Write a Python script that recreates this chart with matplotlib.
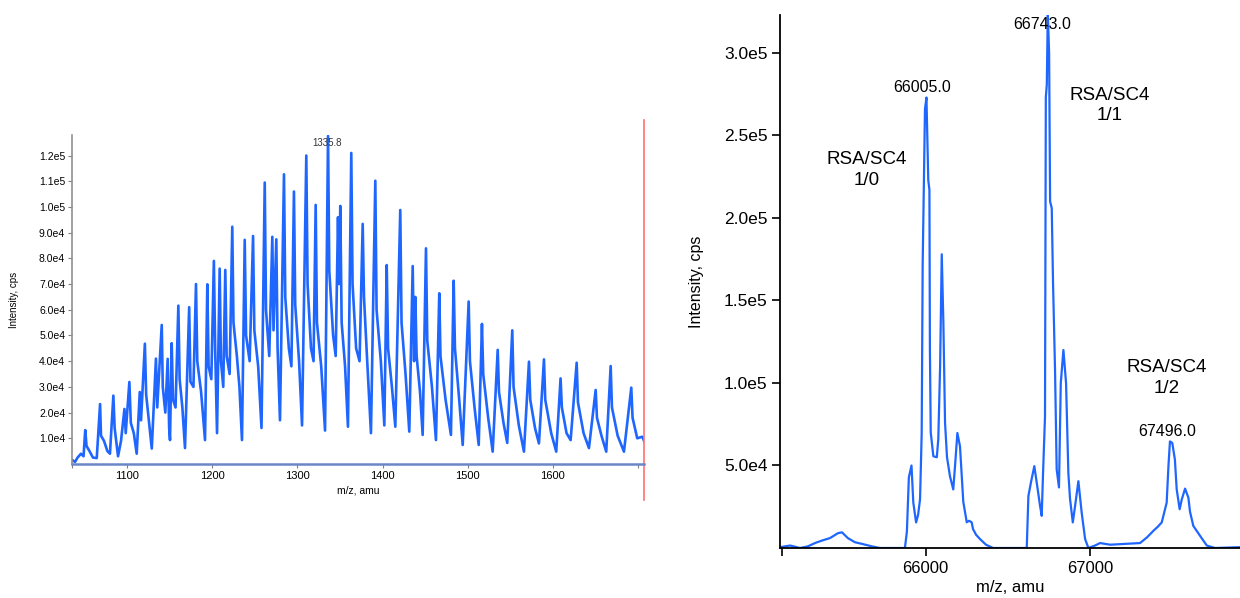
import numpy as np
import matplotlib
matplotlib.use("Agg")
import matplotlib.pyplot as plt

plt.rcParams['font.family'] = ['Liberation Sans', 'DejaVu Sans']

# left panel: raw ESI spectrum (m/z, intensity in cps), vertices
RAW_MZ = [1036, 1039, 1042, 1046, 1049, 1051, 1052.5, 1056, 1060, 1064.5,
          1068.4, 1069.5, 1073, 1077, 1080, 1084, 1085.5, 1089.5, 1093, 1097,
          1098.5, 1102.8, 1104.5, 1108, 1111.4, 1115, 1116.5, 1121, 1122.5, 1126,
          1129.1, 1134, 1135.5, 1140.8, 1142, 1145, 1147.8, 1149.5, 1150.5, 1152.5,
          1154, 1157, 1160.3, 1161.8, 1165, 1168.1, 1173, 1174.5, 1178, 1181,
          1182.5, 1187, 1191.6, 1194.3, 1195.8, 1199, 1202, 1203.5, 1205.7, 1208.8,
          1210.3, 1213, 1215.4, 1217, 1220.5, 1223.6, 1225, 1229, 1232, 1235,
          1238.2, 1239.8, 1244, 1248, 1249.5, 1254, 1257.9, 1261.7, 1263.2, 1267,
          1270.6, 1272, 1275.3, 1276.8, 1279.6, 1284.3, 1285.8, 1290, 1293, 1296,
          1297.5, 1302, 1305.5, 1310.5, 1312, 1316, 1319, 1321.5, 1323, 1328,
          1332.5, 1336, 1337.5, 1342, 1345, 1347.7, 1349, 1350.4, 1352, 1356,
          1359.4, 1363.3, 1364.8, 1369, 1373, 1376.7, 1378.2, 1382, 1386.4, 1391.5,
          1393, 1398, 1402.1, 1404.9, 1406.5, 1411, 1415, 1420.8, 1422.3, 1427,
          1431.4, 1435.4, 1437, 1438.5, 1440, 1444, 1447.1, 1451, 1452.5, 1458,
          1462.7, 1466.6, 1468, 1474, 1480.3, 1483.5, 1485, 1490, 1494.1, 1501.1,
          1502.6, 1508, 1512.9, 1516.7, 1518.2, 1524, 1529.3, 1535.2, 1536.7, 1542,
          1546.4, 1552.3, 1553.8, 1560, 1566, 1571.9, 1573.4, 1579, 1583.6, 1589.5,
          1591, 1598, 1603.9, 1609, 1610.5, 1616, 1620.8, 1627.9, 1629.4, 1636,
          1642.3, 1650.2, 1651.7, 1657, 1662.6, 1667.8, 1669.3, 1676, 1683.4, 1692,
          1693.5, 1699, 1704.9, 1707]
RAW_INT = [1.5, 0.8, 2.5, 4, 3, 13.2, 7, 5, 2.5, 2.3,
           23.3, 11, 9, 5, 4, 26.6, 14, 3, 9, 21.4,
           12, 31.9, 16, 12, 4, 28, 17, 46.8, 27, 16,
           6, 41, 22, 54.1, 30, 20, 40.9, 14, 9.3, 47,
           25, 22, 61.6, 33, 22, 6.2, 61, 32, 30, 70,
           40, 28, 9.3, 69.9, 38, 33, 79, 45, 12, 76,
           40, 30, 75.5, 42, 35, 92.3, 55, 42, 30, 9.3,
           87.2, 50, 40, 88.7, 52, 38, 14, 109.5, 60, 42,
           88.4, 52, 87.4, 45, 17, 112.7, 65, 45, 38, 106,
           62, 40, 15, 120, 70, 45, 40, 100.8, 55, 38,
           13, 127.6, 75, 50, 42, 96, 70, 100.4, 55, 38,
           14.5, 121, 70, 45, 40, 93.4, 65, 40, 12, 110.2,
           60, 40, 15, 77.4, 45, 30, 14.5, 98.8, 55, 35,
           12.6, 77, 40, 65, 42, 28, 11.3, 83.9, 48, 30,
           9.3, 66.4, 42, 25, 11.3, 71.3, 45, 25, 7.4, 63.2,
           40, 22, 7.4, 54.5, 35, 18, 4.8, 44.4, 28, 16,
           8.2, 52, 30, 15, 4.8, 39.8, 25, 14, 8, 40.7,
           25, 12, 4.8, 33.3, 22, 12, 9.3, 39.4, 24, 12,
           6.2, 28.8, 18, 11, 4.8, 38.1, 22, 11, 4.8, 29.7,
           18, 10, 10.6, 9]  # x 1000 cps

RAW_YTICKS = [1e4, 2e4, 3e4, 4e4, 5e4, 6e4, 7e4, 8e4, 9e4, 1e5, 1.1e5, 1.2e5]
RAW_XTICKS = [1100, 1200, 1300, 1400, 1500, 1600, 1700]

# right panel: deconvoluted (reconstructed) mass spectrum
DEC_MASS = [65114, 65176, 65236, 65284, 65327, 65369, 65418, 65467, 65491, 65527,
            65570, 65613, 65673, 65722, 65874, 65886, 65898, 65914, 65925, 65942,
            65954, 65966, 65976, 65982, 65996, 66005, 66016, 66023, 66026, 66031,
            66047, 66068, 66077, 66088, 66098, 66108, 66118, 66130, 66148, 66168,
            66179, 66193, 66209, 66229, 66250, 66264, 66280, 66288, 66307, 66331,
            66367, 66410, 66615, 66625, 66641, 66661, 66678, 66696, 66706, 66714,
            66726, 66731, 66737, 66743, 66751, 66757, 66767, 66775, 66787, 66797,
            66811, 66822, 66838, 66854, 66868, 66878, 66895, 66909, 66929, 66949,
            66970, 66990, 67030, 67061, 67122, 67213, 67304, 67347, 67385, 67413,
            67436, 67466, 67477, 67486, 67500, 67516, 67527, 67545, 67558, 67578,
            67598, 67608, 67628, 67669, 67710, 67760, 67912]
DEC_INT = [0.5, 1.5, 0, 1, 3, 4.5, 6, 9, 9.5, 6,
           3.5, 2.5, 1, 0, 0, 10, 42.8, 50, 27.5, 15.5,
           20, 29.5, 69.7, 172, 266, 273, 223, 217, 120, 70,
           55.6, 55, 66, 110, 178, 136, 76, 55, 43.5, 35.5,
           50, 69.7, 61.6, 28, 15.6, 16.5, 15.6, 11.5, 8, 5.4,
           2, 0, 0, 31.5, 40, 49.6, 38, 25.5, 19.5, 45,
           79.7, 273, 281, 324, 300, 210, 206, 160, 108, 47.6,
           36.7, 100, 120, 100, 45.6, 30, 15.5, 25.5, 40.5, 21.5,
           5.4, 0, 1.5, 3, 2, 2.5, 3, 6.5, 10.4, 13,
           15.5, 27.5, 50, 64.6, 63.7, 53.6, 35.5, 23.5, 29.5, 36,
           30.5, 22, 13.4, 7.4, 1.5, 0, 0.5]  # x 1000 cps

DEC_YTICKS = [5e4, 1e5, 1.5e5, 2e5, 2.5e5, 3e5]
DEC_XTICKS = [66000, 67000]

# (x, y, text) of the annotations
RAW_PEAK_LABELS = [(1335, 1.25e5, "1335.8")]
DEC_PEAK_LABELS = [(65976, 2.79e5, "66005.0"), (66706, 3.17e5, "66743.0"), (67467, 7.08e4, "67496.0")]
SPECIES = [(65642, 2.29e5, "RSA/SC4\n1/0"), (67122, 2.68e5, "RSA/SC4\n1/1"), (67467, 1.03e5, "RSA/SC4\n1/2")]

BLUE = '#1f66ff'


def sci(v):
    s = "%.1e" % v
    mant, exp = s.split("e")
    return "%se%d" % (mant, int(exp))


fig = plt.figure(figsize=(12.4, 5.98), dpi=100)

#----------------------------------------------------------------------------------
# Left: raw charge state envelope
#----------------------------------------------------------------------------------
ax1 = fig.add_axes([0.0581, 0.2241, 0.4613, 0.5502])
ax1.plot(RAW_MZ, np.array(RAW_INT) * 1000, color=BLUE, lw=1.9)
ax1.set_xlim(1035.5, 1707)
ax1.set_ylim(0, 1.28e5)
ax1.set_yticks(RAW_YTICKS)
ax1.set_yticklabels([sci(v) for v in RAW_YTICKS], fontsize=7.5)
ax1.set_xticks(RAW_XTICKS)
ax1.set_xticklabels([str(v) if v < 1700 else "" for v in RAW_XTICKS], fontsize=8)
ax1.set_xticks([1036], minor=True)
ax1.tick_params(which='both', length=3, width=0.8, color='#808080', pad=2)
for s in ['top', 'right']:
    ax1.spines[s].set_visible(False)
ax1.spines['left'].set_color('#909090')
ax1.spines['left'].set_linewidth(1.2)
ax1.spines['bottom'].set_color('#6a86c8')
ax1.spines['bottom'].set_linewidth(1.8)
ax1.set_ylabel("Intensity, cps", fontsize=7, labelpad=14)
ax1.set_xlabel("m/z, amu", fontsize=7.5, labelpad=3)
for mz, h, txt in RAW_PEAK_LABELS:
    ax1.text(mz, h, txt, fontsize=7, ha='center', va='center', color='#333333')
ax1.axvline(1707, ymin=-0.11, ymax=1.046, color='#ff7070', lw=1.2, clip_on=False)

#----------------------------------------------------------------------------------
# Right: deconvoluted spectrum
#----------------------------------------------------------------------------------
ax2 = fig.add_axes([0.629, 0.0836, 0.371, 0.8913])
ax2.plot(DEC_MASS, np.array(DEC_INT) * 1000, color=BLUE, lw=1.6)
ax2.set_xlim(65114, 67912)
ax2.set_ylim(0, 3.23e5)
ax2.set_yticks(DEC_YTICKS)
ax2.set_yticklabels([sci(v) for v in DEC_YTICKS], fontsize=12.5)
ax2.set_xticks(DEC_XTICKS)
ax2.set_xticklabels([str(v) for v in DEC_XTICKS], fontsize=12)
ax2.set_xticks([65128], minor=True)
ax2.tick_params(which='both', length=6, width=1.2, pad=3)
for s in ['top', 'right']:
    ax2.spines[s].set_visible(False)
ax2.spines['left'].set_linewidth(1.3)
ax2.spines['bottom'].set_linewidth(1.3)
ax2.set_ylabel("Intensity, cps", fontsize=11.5, labelpad=14)
ax2.set_xlabel("m/z, amu", fontsize=12, labelpad=3)

for m, h, txt in DEC_PEAK_LABELS:
    ax2.text(m, h, txt, fontsize=11.5, ha='center', va='center')
for m, h, txt in SPECIES:
    ax2.text(m, h, txt, fontsize=13.5, ha='center', va='center', linespacing=1.25)

fig.savefig("out.png", dpi=100)
